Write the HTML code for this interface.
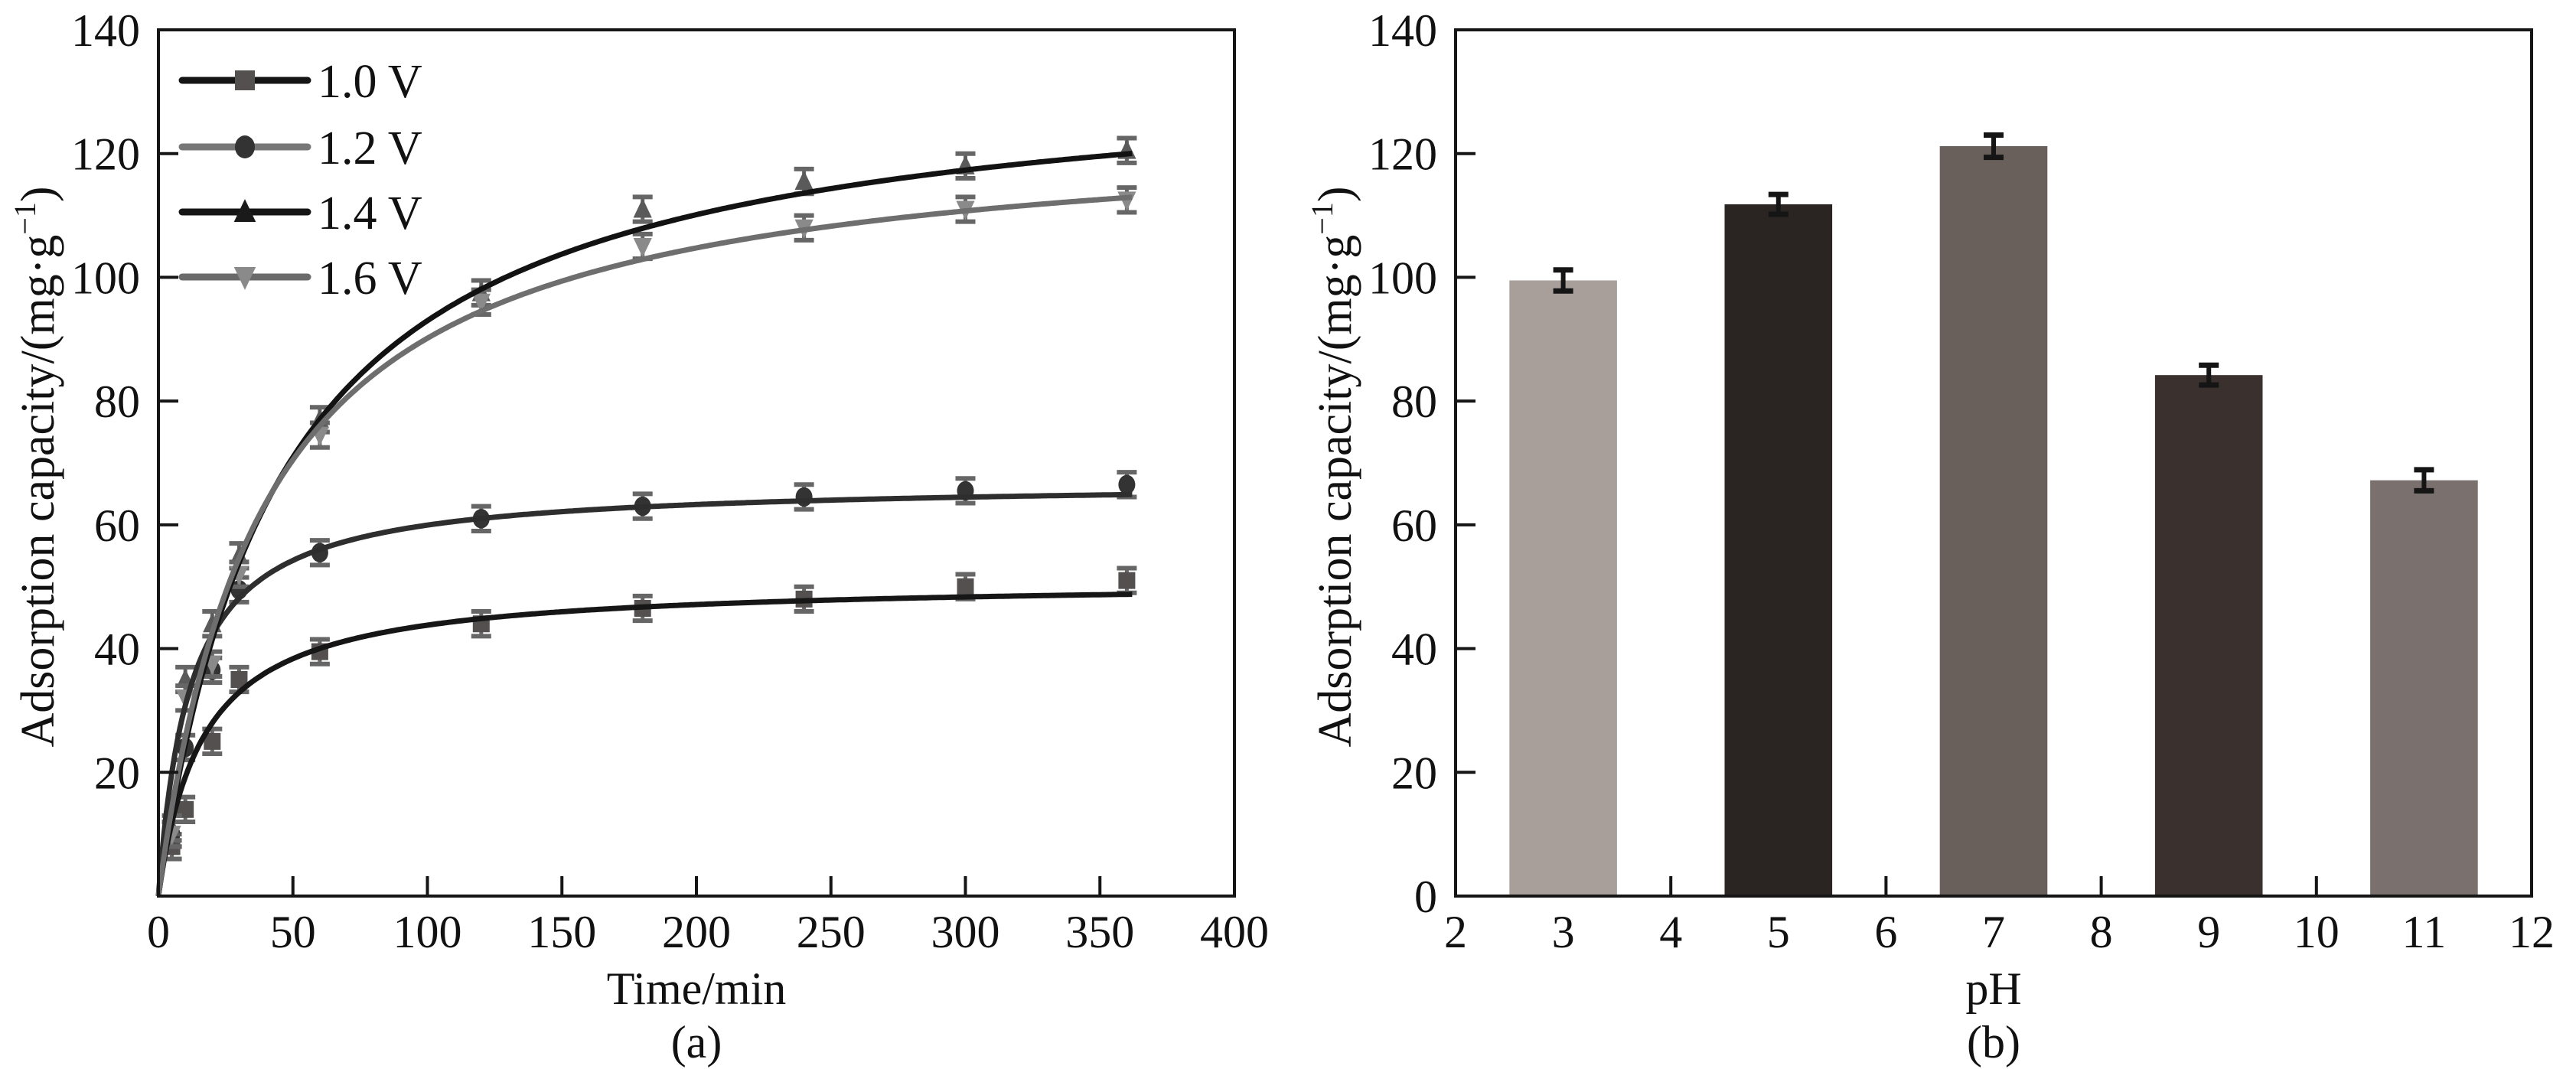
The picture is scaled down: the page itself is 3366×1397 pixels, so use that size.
<!DOCTYPE html>
<html><head><meta charset="utf-8">
<style>
html,body{margin:0;padding:0;background:#fff;}
svg{display:block;font-family:"Liberation Serif","Times New Roman",serif;}
</style></head>
<body>
<svg id="fig" width="3366" height="1397" viewBox="0 0 3366 1397" xmlns="http://www.w3.org/2000/svg"></svg>
<script>
// ---------- Chart (a) data ----------
const times = [5, 10, 20, 30, 60, 120, 180, 240, 300, 360];
const seriesNames = ["1.0 V", "1.2 V", "1.4 V", "1.6 V"];
const q10 = [8, 14, 25, 35, 39.5, 44, 46.5, 48, 50, 51];
const q12 = [10, 24, 36.5, 49.5, 55.5, 61, 63, 64.5, 65.5, 66.5];
const q14 = [11, 35, 44, 55, 77, 97.5, 111, 115.5, 118, 120.5];
const q16 = [10, 32, 37.5, 52, 74.5, 96, 105, 108, 111, 112.5];
const fitQe = [51, 67, 135, 125];
const fitK = [0.00119, 0.00127, 0.000164, 0.000207];
const errA = 2;
const xTicksA = [0, 50, 100, 150, 200, 250, 300, 350, 400];
const yTicksA = [20, 40, 60, 80, 100, 120, 140];
// ---------- Chart (b) data ----------
const phCats = [3, 5, 7, 9, 11];
const phVals = [99.5, 111.8, 121.2, 84.2, 67.2];
const phErr = [1.7, 1.6, 1.8, 1.6, 1.7];
const xTicksB = [2, 3, 4, 5, 6, 7, 8, 9, 10, 11, 12];
const yTicksB = [0, 20, 40, 60, 80, 100, 120, 140];

const NS = "http://www.w3.org/2000/svg";
const svg = document.getElementById("fig");
function mk(tag, attrs, parent, text) {
  const e = document.createElementNS(NS, tag);
  for (const k in attrs) e.setAttribute(k, attrs[k]);
  if (text !== undefined) e.textContent = text;
  (parent || svg).appendChild(e);
  return e;
}
const FS = 60;

// ---------- Panel A ----------
const A = {l: 207, r: 1613, t: 39, b: 1171};
const xA = v => A.l + (v - 0) / 400 * (A.r - A.l);
const yA = v => A.b - v / 140 * (A.b - A.t);
const gA = mk("g", {});



const seriesData = [q10, q12, q14, q16];
const lineColors = ["#161616", "#2e2e2e", "#121212", "#6e6e6e"];
const markColors = ["#555050", "#333", "#5a5a5a", "#8a8a8a"];
const markShapes = ["square", "circle", "up", "down"];
function marker(shape, cx, cy, s, col, parent) {
  let el;
  if (shape === "square") el = mk("rect", {x: cx - s, y: cy - s, width: 2 * s, height: 2 * s, fill: col}, parent);
  else if (shape === "circle") el = mk("ellipse", {cx: cx, cy: cy, rx: s, ry: s * 1.15, fill: col}, parent);
  else if (shape === "up") el = mk("polygon", {points: `${cx},${cy - s * 1.3} ${cx - s * 1.1},${cy + s} ${cx + s * 1.1},${cy + s}`, fill: col}, parent);
  else el = mk("polygon", {points: `${cx - s * 1.1},${cy - s} ${cx + s * 1.1},${cy - s} ${cx},${cy + s * 1.3}`, fill: col}, parent);
  return el;
}
seriesData.forEach((arr, si) => {
  const g = mk("g", {}, gA);
  
  
  arr.forEach((v, i) => {
    const cx = xA(times[i]), cy = yA(v);
    mk("line", {x1: cx, y1: yA(v - errA), x2: cx, y2: yA(v + errA), stroke: "#666", "stroke-width": 5}, g);
    mk("line", {x1: cx - 13, y1: yA(v + errA), x2: cx + 13, y2: yA(v + errA), stroke: "#666", "stroke-width": 6}, g);
    mk("line", {x1: cx - 13, y1: yA(v - errA), x2: cx + 13, y2: yA(v - errA), stroke: "#666", "stroke-width": 6}, g);
    const m = marker(markShapes[si], cx, cy, 11, markColors[si], g);
    
    
  });
});
fitQe.forEach((qe, si) => {
  let d = "";
  for (let t = 0; t <= 362; t += 1) {
    const x = qe * qe * fitK[si] * t;
    const q = x / (1 + qe * fitK[si] * t);
    d += (t === 0 ? "M" : "L") + xA(t).toFixed(1) + "," + yA(q).toFixed(1);
  }
  const p = mk("path", {d: d, fill: "none", stroke: lineColors[si], "stroke-width": 7}, gA);
  
  
});
const frA = mk("rect", {x: A.l, y: A.t, width: A.r - A.l, height: A.b - A.t, fill: "none", stroke: "#151515", "stroke-width": 4}, gA);


xTicksA.forEach(v => {
  if (v > 0 && v < 400) mk("line", {x1: xA(v), y1: A.b, x2: xA(v), y2: A.b - 26, stroke: "#151515", "stroke-width": 4}, gA);
  const t = mk("text", {x: xA(v), y: 1238, "font-size": FS, "text-anchor": "middle", fill: "#111"}, gA, String(v));
  
  
});
yTicksA.forEach(v => {
  if (v < 140) mk("line", {x1: A.l, y1: yA(v), x2: A.l + 26, y2: yA(v), stroke: "#151515", "stroke-width": 4}, gA);
  const t = mk("text", {x: A.l - 24, y: yA(v) + 21, "font-size": FS, "text-anchor": "end", fill: "#111"}, gA, String(v));
  
  
});
const legY = [105, 192, 277, 362];
const legLine = ["#151515", "#777", "#151515", "#6a6a6a"];
const legMark = ["#555050", "#333", "#1a1a1a", "#8a8a8a"];
seriesNames.forEach((n, i) => {
  const g = mk("g", {}, gA);
  
  
  mk("line", {x1: 238, y1: legY[i], x2: 402, y2: legY[i], stroke: legLine[i], "stroke-width": 9, "stroke-linecap": "round"}, g);
  marker(markShapes[i], 320, legY[i], 13, legMark[i], g);
  mk("text", {x: 415, y: legY[i] + 22, "font-size": 62, fill: "#111"}, g, n);
});
{
  let t = mk("text", {x: (A.l + A.r) / 2, y: 1312, "font-size": FS, "text-anchor": "middle", fill: "#111"}, gA, "Time/min");
  
  
  t = mk("text", {x: (A.l + A.r) / 2, y: 1382, "font-size": FS, "text-anchor": "middle", fill: "#111"}, gA, "(a)");
  
  
}
function yTitle(cx, parent, name) {
  const t = mk("text", {x: 0, y: 0, "font-size": 62, "text-anchor": "middle", fill: "#111", transform: `translate(${cx},610) rotate(-90)`}, parent);
  
  
  mk("tspan", {}, t, "Adsorption capacity/(mg·g");
  mk("tspan", {dy: -24, "font-size": 40}, t, "−1");
  mk("tspan", {dy: 24}, t, ")");
}
yTitle(70, gA, 'y-axis-title-a');

// ---------- Panel B ----------
const B = {l: 1902, r: 3308, t: 39, b: 1171};
const xB = v => B.l + (v - 2) / 10 * (B.r - B.l);
const yB = v => B.b - v / 140 * (B.b - B.t);
const gB = mk("g", {});


const barColors = ["#a89f9b", "#2a2522", "#6a605b", "#3a302e", "#7a706e"];
phCats.forEach((c, i) => {
  const x0 = xB(c - 0.5), x1 = xB(c + 0.5);
  const r = mk("rect", {x: x0, y: yB(phVals[i]), width: x1 - x0, height: B.b - yB(phVals[i]), fill: barColors[i]}, gB);
  
  
  const cx = xB(c), hi = yB(phVals[i] + phErr[i]), lo = yB(phVals[i] - phErr[i]);
  const eg = mk("g", {}, gB);
  
  
  mk("line", {x1: cx, y1: hi, x2: cx, y2: lo, stroke: "#151515", "stroke-width": 6}, eg);
  mk("line", {x1: cx - 13, y1: hi, x2: cx + 13, y2: hi, stroke: "#151515", "stroke-width": 7}, eg);
  mk("line", {x1: cx - 13, y1: lo, x2: cx + 13, y2: lo, stroke: "#151515", "stroke-width": 7}, eg);
});
const frB = mk("rect", {x: B.l, y: B.t, width: B.r - B.l, height: B.b - B.t, fill: "none", stroke: "#151515", "stroke-width": 4}, gB);


xTicksB.forEach(v => {
  if (v % 2 === 0 && v > 2 && v < 12) mk("line", {x1: xB(v), y1: B.b, x2: xB(v), y2: B.b - 26, stroke: "#151515", "stroke-width": 4}, gB);
  const t = mk("text", {x: xB(v), y: 1238, "font-size": FS, "text-anchor": "middle", fill: "#111"}, gB, String(v));
  
  
});
yTicksB.forEach(v => {
  if (v > 0 && v < 140) mk("line", {x1: B.l, y1: yB(v), x2: B.l + 26, y2: yB(v), stroke: "#151515", "stroke-width": 4}, gB);
  const t = mk("text", {x: B.l - 24, y: yB(v) + 21, "font-size": FS, "text-anchor": "end", fill: "#111"}, gB, String(v));
  
  
});
{
  let t = mk("text", {x: (B.l + B.r) / 2, y: 1312, "font-size": FS, "text-anchor": "middle", fill: "#111"}, gB, "pH");
  
  
  t = mk("text", {x: (B.l + B.r) / 2, y: 1382, "font-size": FS, "text-anchor": "middle", fill: "#111"}, gB, "(b)");
  
  
}
yTitle(1765, gB, 'y-axis-title-b');
</script>
</body></html>
